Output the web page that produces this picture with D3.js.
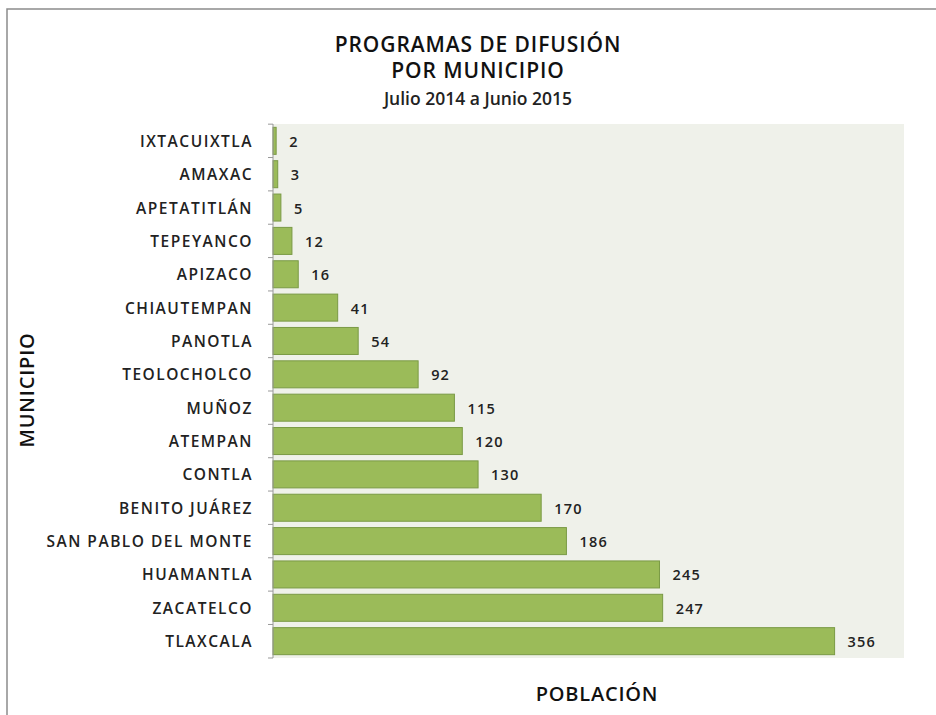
<!DOCTYPE html>
<html>
<head>
<meta charset="utf-8">
<script src="https://cdn.jsdelivr.net/npm/d3@7"></script>
<style>
  body { margin: 0; background: #fff; }
  svg { font-family: "Open Sans", sans-serif; }
</style>
</head>
<body>
<script>
// municipios en volgorde van boven naar beneden
var municipios = ["IXTACUIXTLA", "AMAXAC", "APETATITLÁN", "TEPEYANCO", "APIZACO",
  "CHIAUTEMPAN", "PANOTLA", "TEOLOCHOLCO", "MUÑOZ", "ATEMPAN", "CONTLA",
  "BENITO JUÁREZ", "SAN PABLO DEL MONTE", "HUAMANTLA", "ZACATELCO", "TLAXCALA"];
var programas = [2, 3, 5, 12, 16, 41, 54, 92, 115, 120, 130, 170, 186, 245, 247, 356];

var titulo = ["PROGRAMAS DE DIFUSIÓN", "POR MUNICIPIO"];
var subtitulo = "Julio 2014 a Junio 2015";

var data = municipios.map(function(m, i) { return {name: m, value: programas[i]}; });

var W = 936, H = 715;
var margin = {top: 124, right: 32, bottom: 57, left: 273},
    width = W - margin.left - margin.right,
    height = H - margin.top - margin.bottom;

var svg = d3.select("body").append("svg")
    .attr("width", W)
    .attr("height", H);

// rand om de grafiek
svg.append("path")
    .attr("d", "M7," + H + "V9H" + W)
    .attr("fill", "none")
    .attr("stroke", "#8c8c8c")
    .attr("stroke-width", 1.5);

var g = svg.append("g")
    .attr("transform", "translate(" + margin.left + "," + margin.top + ")");

var x = d3.scaleLinear().domain([0, 400]).range([0, width]);
var y = d3.scaleBand().domain(municipios).range([0, height]).paddingInner(0.19).paddingOuter(0.1);

// achtergrond plotgebied
g.append("rect")
    .attr("width", width)
    .attr("height", height)
    .attr("fill", "#eff1ea");

// balken
g.selectAll(".bar")
    .data(data)
  .enter().append("rect")
    .attr("class", "bar")
    .attr("x", 0)
    .attr("y", function(d) { return y(d.name); })
    .attr("width", function(d) { return x(d.value); })
    .attr("height", y.bandwidth())
    .attr("fill", "#9bbb59")
    .attr("stroke", "#7a9a45")
    .attr("stroke-width", 1);

// waarden
g.selectAll(".val")
    .data(data)
  .enter().append("text")
    .attr("class", "val")
    .attr("x", function(d) { return x(d.value) + 13; })
    .attr("y", function(d) { return y(d.name) + y.bandwidth() / 2 + 6; })
    .attr("font-size", "14.5px")
    .attr("font-weight", "600")
    .attr("fill", "#222")
    .attr("letter-spacing", "1.2px")
    .text(function(d) { return d.value; });

// y-as met streepjes tussen de categorieën
var yAxis = g.append("g");
yAxis.append("line")
    .attr("x1", 0).attr("x2", 0)
    .attr("y1", 0).attr("y2", height)
    .attr("stroke", "#999");
yAxis.selectAll(".tick")
    .data(d3.range(municipios.length + 1))
  .enter().append("line")
    .attr("x1", -5).attr("x2", 0)
    .attr("y1", function(i) { return i === municipios.length ? height : y(municipios[i]) - y.step() * y.paddingInner() / 2; })
    .attr("y2", function(i) { return i === municipios.length ? height : y(municipios[i]) - y.step() * y.paddingInner() / 2; })
    .attr("stroke", "#999");

// categorie labels
g.selectAll(".cat")
    .data(data)
  .enter().append("text")
    .attr("class", "cat")
    .attr("x", -20)
    .attr("y", function(d) { return y(d.name) + y.bandwidth() / 2 + 6; })
    .attr("text-anchor", "end")
    .attr("font-size", "15.5px")
    .attr("font-weight", "600")
    .attr("fill", "#222")
    .attr("letter-spacing", "1.5px")
    .text(function(d) { return d.name; });

// titel
svg.selectAll(".titel")
    .data(titulo)
  .enter().append("text")
    .attr("class", "titel")
    .attr("x", 478)
    .attr("y", function(d, i) { return 52 + i * 26; })
    .attr("text-anchor", "middle")
    .attr("font-size", "21px")
    .attr("font-weight", "600")
    .attr("fill", "#111")
    .attr("letter-spacing", "0.9px")
    .text(function(d) { return d; });

svg.append("text")
    .attr("x", 478)
    .attr("y", 105)
    .attr("text-anchor", "middle")
    .attr("font-size", "17.5px")
    .attr("font-weight", "600")
    .attr("fill", "#222")
    .text(subtitulo);

// as titels
svg.append("text")
    .attr("transform", "translate(34,390) rotate(-90)")
    .attr("text-anchor", "middle")
    .attr("font-size", "20px")
    .attr("font-weight", "600")
    .attr("fill", "#111")
    .attr("letter-spacing", "0.8px")
    .text("MUNICIPIO");

svg.append("text")
    .attr("x", 597)
    .attr("y", 701)
    .attr("text-anchor", "middle")
    .attr("font-size", "20px")
    .attr("font-weight", "600")
    .attr("fill", "#111")
    .attr("letter-spacing", "0.8px")
    .text("POBLACIÓN");
</script>
</body>
</html>
